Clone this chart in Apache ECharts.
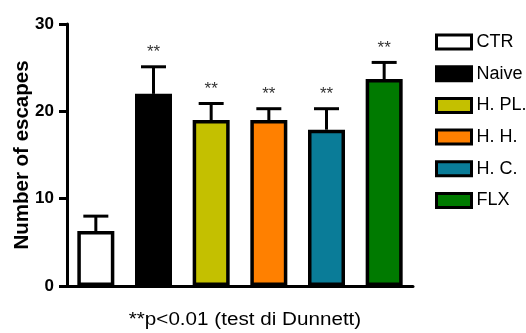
<!DOCTYPE html>
<html>
<head>
<meta charset="utf-8">
<script src="https://cdn.jsdelivr.net/npm/echarts@6/dist/echarts.min.js"></script>
<style>
  html, body { margin: 0; padding: 0; background: #fff; }
  #chart { width: 526px; height: 333px; }
</style>
</head>
<body>
<div id="chart"></div>
<script>
// Groups, mean escapes, SEM and colours
const groups = ['CTR', 'Naive', 'H. PL.', 'H. H.', 'H. C.', 'FLX'];
const means = [6.3, 22.0, 19.0, 19.0, 17.9, 23.7];
const sems = [1.7, 3.1, 1.9, 1.3, 2.4, 1.9];
const significance = ['', '**', '**', '**', '**', '**'];
const colors = ['#ffffff', '#000000', '#c4c000', '#ff8000', '#0a7c98', '#007a00'];
const yTicks = [0, 10, 20, 30];

const chart = echarts.init(document.getElementById('chart'), null, { renderer: 'canvas' });

// One series per group so every group gets its own legend entry
const barSeries = groups.map((g, i) => ({
  name: g,
  type: 'bar',
  stack: 'groups',
  barWidth: 37,
  data: groups.map((_, j) => (j === i ? means[i] : '-')),
  itemStyle: { color: colors[i], borderColor: '#000', borderWidth: 3.5 },
  emphasis: { disabled: true },
  z: 2
}));

// Upper error whisker with cap, plus the significance stars
const errorSeries = {
  type: 'custom',
  data: groups.map((_, i) => [i, means[i], means[i] + sems[i], significance[i]]),
  encode: { x: 0, y: [1, 2] },
  z: 1,
  silent: true,
  renderItem: function (params, api) {
    const base = api.coord([api.value(0), api.value(1)]);
    const top = api.coord([api.value(0), api.value(2)]);
    const half = 12.5;
    const children = [
      { type: 'line', shape: { x1: base[0], y1: base[1], x2: top[0], y2: top[1] },
        style: { stroke: '#000', lineWidth: 3 } },
      { type: 'line', shape: { x1: top[0] - half, y1: top[1], x2: top[0] + half, y2: top[1] },
        style: { stroke: '#000', lineWidth: 3 } }
    ];
    const star = significance[params.dataIndex];
    if (star) {
      children.push({
        type: 'text',
        style: { text: star, x: top[0], y: top[1] - 14, align: 'center', verticalAlign: 'middle',
                 font: '17px "Liberation Sans", Arial, sans-serif', fill: '#333' }
      });
    }
    return { type: 'group', children: children };
  }
};

chart.setOption({
  animation: false,
  backgroundColor: '#fff',
  grid: { left: 67, right: 113, top: 24, bottom: 47, containLabel: false, outerBoundsMode: 'none' },
  legend: {
    orient: 'vertical',
    left: 430,
    top: 28,
    padding: 5,
    icon: 'rect',
    itemWidth: 35,
    itemHeight: 14,
    itemGap: 13.7,
    data: groups,
    itemStyle: { borderColor: '#000', borderWidth: 3 },
    textStyle: {
      fontFamily: '"Liberation Sans", Arial, sans-serif',
      fontSize: 18, color: '#000', padding: [0, 0, 0, 0]
    },
    selectedMode: false
  },
  xAxis: {
    type: 'category',
    data: groups,
    axisLine: { lineStyle: { color: '#000', width: 3 } },
    axisTick: { show: false },
    axisLabel: { show: false },
    splitLine: { show: false }
  },
  yAxis: {
    type: 'value',
    min: yTicks[0],
    max: yTicks[yTicks.length - 1],
    interval: 10,
    name: 'Number of escapes',
    nameLocation: 'middle',
    nameGap: 34,
    nameMoveOverlap: false,
    nameTextStyle: { fontFamily: '"Liberation Sans", Arial, sans-serif', fontWeight: 'bold', fontSize: 20.5, color: '#000' },
    axisLine: { show: true, lineStyle: { color: '#000', width: 3 } },
    axisTick: { show: true, length: 8, lineStyle: { color: '#000', width: 3 } },
    axisLabel: { margin: 13, fontFamily: '"Liberation Sans", Arial, sans-serif', fontWeight: 'bold', fontSize: 17, color: '#000' },
    splitLine: { show: false }
  },
  graphic: [{
    type: 'text',
    x: 245,
    y: 320,
    scaleX: 1.18,
    style: {
      text: '**p<0.01 (test di Dunnett)',
      align: 'center', verticalAlign: 'middle',
      font: '17.5px "Liberation Sans", Arial, sans-serif', fill: '#000'
    }
  }],
  series: barSeries.concat([errorSeries])
});
</script>
</body>
</html>
